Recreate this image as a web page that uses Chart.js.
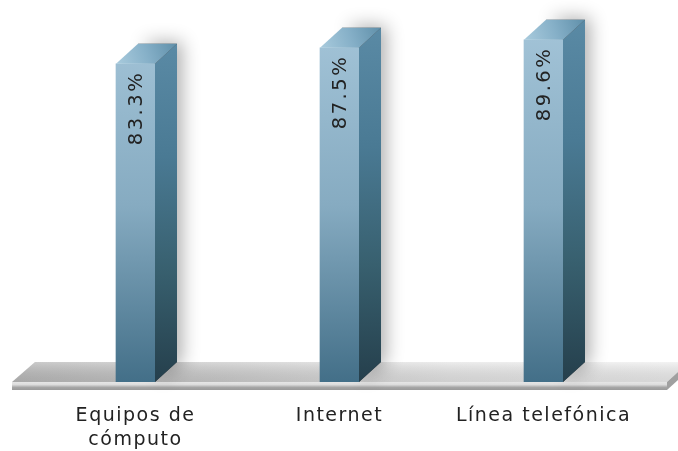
<!DOCTYPE html>
<html><head><meta charset="utf-8">
<style>html,body{margin:0;padding:0;background:#fff}#w{width:678px;height:451px;position:relative}canvas{filter:blur(0.5px)}</style>
<script src="https://cdn.jsdelivr.net/npm/chart.js@4"></script></head>
<body><div id="w"><canvas id="c"></canvas></div>
<script>
const categories=[["Equipos de","cómputo"],"Internet","Línea telefónica"];
const values=[83.3,87.5,89.6];
const DX=22,DY=20;
function lin(ctx,x0,y0,x1,y1,st){const g=ctx.createLinearGradient(x0,y0,x1,y1);st.forEach((c,i)=>g.addColorStop(i/(st.length-1),c));return g;}
function poly(ctx,p,f){ctx.beginPath();p.forEach((q,i)=>i?ctx.lineTo(q[0],q[1]):ctx.moveTo(q[0],q[1]));ctx.closePath();ctx.fillStyle=f;ctx.fill();}
const spacing={id:'spacing',beforeDraw(ch){ch.ctx.letterSpacing='1.5px';}};
const floor3d={id:'floor3d',beforeDatasetsDraw(ch){
  const ctx=ch.ctx,b=ch.chartArea.bottom,l=12,r=667;
  ctx.save();
  poly(ctx,[[l,b],[l+DX+1,b-DY],[r+DX,b-DY],[r,b]],lin(ctx,l,0,r,0,['#bcbcbc','#d0d0d0','#e8e8e8','#f0f0f0']));
  poly(ctx,[[l,b],[l+DX+1,b-DY],[r+DX,b-DY],[r,b]],lin(ctx,0,b-DY,0,b,['rgba(255,255,255,0.2)','rgba(0,0,0,0.10)']));
  poly(ctx,[[r,b],[r+DX,b-DY],[r+DX,b-DY+8],[r,b+8]],'#a0a0a0');
  ctx.fillStyle=lin(ctx,0,b,0,b+8,['#e6e6e6','#dcdcdc','#a6a6a6','#9a9a9a']);
  ctx.fillRect(l,b,r-l,8);
  ctx.restore();
  const m=ch.getDatasetMeta(0);
  m.data.forEach(e=>{
    const x1=e.x+e.width/2,t=e.y;
    ctx.save();ctx.shadowColor='rgba(0,0,0,0.32)';ctx.shadowBlur=18;ctx.shadowOffsetX=5;ctx.shadowOffsetY=-2;
    poly(ctx,[[e.x-e.width/2+DX,t-DY],[x1+DX,t-DY],[x1+DX,b-DY],[x1,b],[x1,t]],'#444');
    ctx.restore();
  });
}};
const sides3d={id:'sides3d',afterDatasetsDraw(ch){
  const ctx=ch.ctx,b=ch.chartArea.bottom;
  ch.getDatasetMeta(0).data.forEach((e,i)=>{
    const x0=e.x-e.width/2,x1=e.x+e.width/2,t=e.y;
    poly(ctx,[[x1,t],[x1+DX,t-DY],[x1+DX,b-DY],[x1,b]],lin(ctx,0,t-DY,0,b,['#5a8aa5','#4a7a94','#38606f','#253f4c']));
    poly(ctx,[[x0,t],[x0+DX,t-DY],[x1+DX,t-DY],[x1,t]],lin(ctx,x0,t,x1+DX,t-DY,['#a9cbdd','#86b0c8','#5f8fa9']));
    ctx.save();ctx.translate(e.x,t+7);ctx.rotate(-Math.PI/2);
    ctx.font='19.5px "DejaVu Sans"';ctx.letterSpacing='2.5px';ctx.fillStyle='#222';ctx.textAlign='right';ctx.textBaseline='middle';
    ctx.fillText(values[i].toFixed(1)+'%',0,1);ctx.restore();
  });
}};
const cv=document.getElementById('c');
new Chart(cv,{type:'bar',
 data:{labels:categories,datasets:[{data:values,barThickness:39,
   backgroundColor(c){const a=c.chart.chartArea;if(!a)return '#6f9ab2';return lin(c.chart.ctx,0,a.top+30,0,a.bottom,['#a2c3d7','#86abc1','#436f88']);},borderWidth:0}]},
 plugins:[spacing,floor3d,sides3d],
 options:{responsive:true,maintainAspectRatio:false,animation:false,
  layout:{padding:{left:33.5,right:32.5,top:0,bottom:0}},
  plugins:{legend:{display:false},tooltip:{enabled:false}},
  scales:{
   y:{display:false,min:0,max:100},
   x:{afterFit(s){s.height=69;},grid:{display:false},border:{display:false},
      ticks:{color:'#222',maxRotation:0,autoSkip:false,padding:14,font:{family:'"DejaVu Sans"',size:19,lineHeight:1.26}}}
  }}});
</script></body></html>
